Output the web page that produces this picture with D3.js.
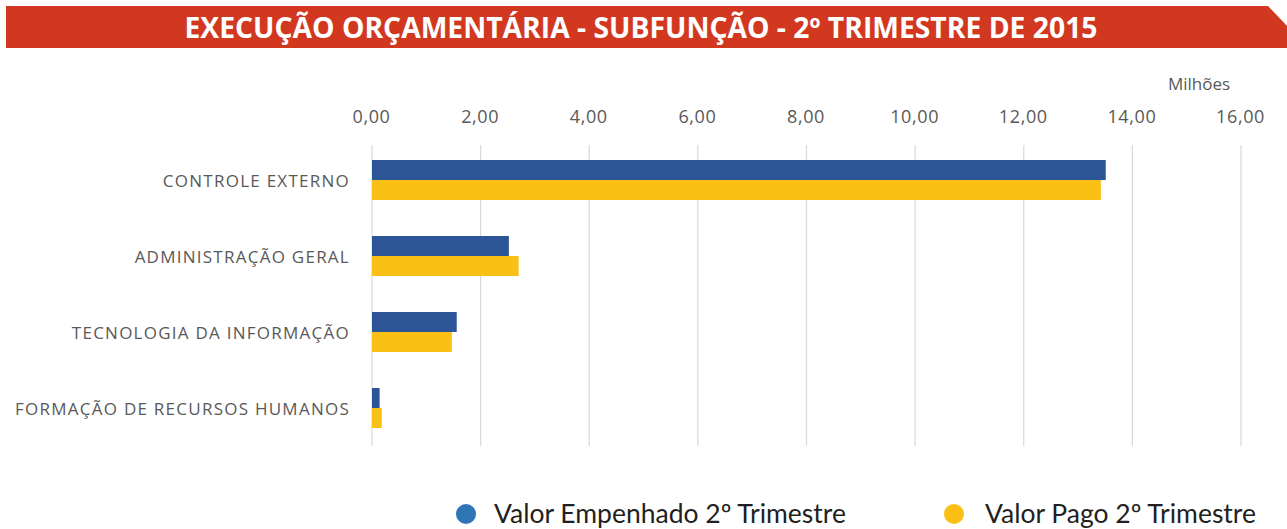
<!DOCTYPE html>
<html><head><meta charset="utf-8">
<script src="https://cdn.jsdelivr.net/npm/d3@7"></script>
<style>
html,body{margin:0;padding:0;background:#fff;}
svg{display:block;}
</style></head>
<body>
<svg id="chart" width="1287" height="529"></svg>
<script>
const title = "EXECUÇÃO ORÇAMENTÁRIA - SUBFUNÇÃO - 2º TRIMESTRE DE 2015";
const categories = ["CONTROLE EXTERNO", "ADMINISTRAÇÃO GERAL", "TECNOLOGIA DA INFORMAÇÃO", "FORMAÇÃO DE RECURSOS HUMANOS"];
const seriesNames = ["Valor Empenhado 2º Trimestre", "Valor Pago 2º Trimestre"];
const empenhado = [13.51, 2.52, 1.56, 0.14];
const pago = [13.42, 2.70, 1.47, 0.18];
const tickValues = [0, 2, 4, 6, 8, 10, 12, 14, 16];
const unitLabel = "Milhões";

const barColors = ["#2C5597", "#FBC015"];
const legendColors = ["#2E75B6", "#FBC015"];

const svg = d3.select("#chart");

// Title banner
svg.append("polygon")
  .attr("points", "6,6 1268,6 1287,26 1287,48 6,48")
  .attr("fill", "#D2381F");
svg.append("text")
  .attr("x", 641).attr("y", 38)
  .attr("text-anchor", "middle")
  .attr("fill", "#fff")
  .attr("font-family", "'Liberation Sans Narrow', 'Open Sans', sans-serif")
  .attr("font-weight", "bold")
  .attr("font-size", 28)
  .attr("textLength", 913)
  .attr("lengthAdjust", "spacingAndGlyphs")
  .text(title);

const x = d3.scaleLinear().domain([0, 16]).range([372, 1241]);
const y = d3.scaleBand().domain(categories).range([142, 446]).paddingInner(0).paddingOuter(0);
const sub = d3.scaleBand().domain(seriesNames).range([18, 58]);

// gridlines
svg.append("g").selectAll("line").data(tickValues).join("line")
  .attr("x1", d => x(d)).attr("x2", d => x(d))
  .attr("y1", 145).attr("y2", 446)
  .attr("stroke", "#D9D9D9").attr("stroke-width", 1.2);

// top axis labels
const fmt = d => d3.format(".2f")(d).replace(".", ",");
const axis = d3.axisTop(x).tickValues(tickValues).tickFormat(fmt).tickSize(0).tickPadding(0);
const ag = svg.append("g").attr("transform", "translate(-1,123)").call(axis);
ag.select(".domain").remove();
ag.selectAll("text")
  .attr("fill", "#595959")
  .attr("font-family", "'Open Sans', sans-serif")
  .attr("font-size", 18)
  .attr("letter-spacing", 0.6)
  .attr("dy", 0);

svg.append("text")
  .attr("x", 1199).attr("y", 90)
  .attr("text-anchor", "middle")
  .attr("fill", "#595959")
  .attr("font-family", "'Open Sans', sans-serif")
  .attr("font-size", 17)
  .text(unitLabel);

// category labels
const yAxis = d3.axisLeft(y).tickSize(0).tickPadding(0);
const yg = svg.append("g").attr("transform", "translate(350,2)").call(yAxis);
yg.select(".domain").remove();
yg.selectAll("text")
  .attr("fill", "#595959")
  .attr("font-family", "'Open Sans', sans-serif")
  .attr("font-size", 17)
  .attr("letter-spacing", 1.25);

// bars
const rows = categories.map((c, i) => ({cat: c, vals: [empenhado[i], pago[i]]}));
const groups = svg.append("g").selectAll("g").data(rows).join("g")
  .attr("transform", d => `translate(0,${y(d.cat)})`);
groups.selectAll("rect").data(d => d.vals.map((v, j) => ({v, s: seriesNames[j], j}))).join("rect")
  .attr("x", x(0))
  .attr("y", d => sub(d.s))
  .attr("width", d => x(d.v) - x(0))
  .attr("height", sub.bandwidth())
  .attr("fill", d => barColors[d.j]);

// legend
const legendX = [466, 954];
const lg = svg.append("g").selectAll("g").data(seriesNames).join("g")
  .attr("transform", (d, i) => `translate(${legendX[i]},514)`);
lg.append("circle").attr("r", 10).attr("fill", (d, i) => legendColors[i]);
lg.append("text")
  .attr("x", (d, i) => i === 0 ? 28 : 31)
  .attr("y", 9)
  .attr("fill", "#231F20")
  .attr("font-family", "Lato, sans-serif")
  .attr("font-size", 26.5)
  .text(d => d);
</script>
</body></html>
